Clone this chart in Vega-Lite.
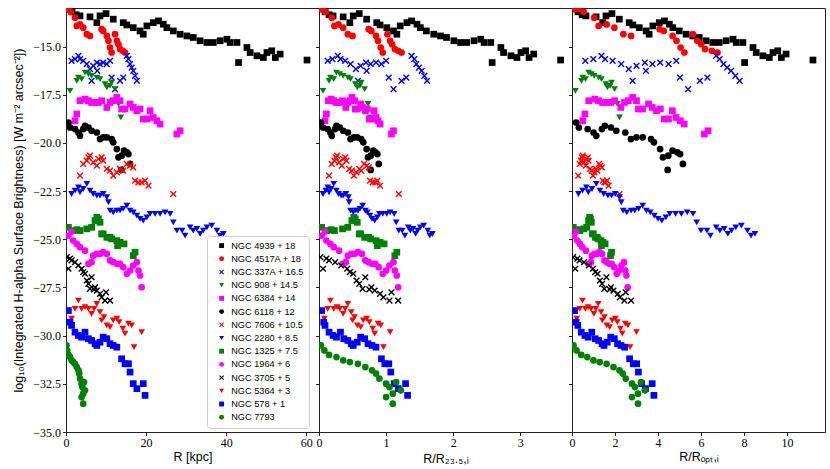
{
  "$schema": "https://vega.github.io/schema/vega-lite/v6.json",
  "padding": {"left": 12, "top": 7, "right": 4, "bottom": 2},
  "spacing": 0,
  "bounds": "flush",
  "datasets": {
    "pts": [
      {"g": "NGC 4939 + 18", "r": 0.2, "a": 0.01, "b": 0.04, "y": -13.05},
      {"g": "NGC 4939 + 18", "r": 1.5, "a": 0.09, "b": 0.28, "y": -13.2},
      {"g": "NGC 4939 + 18", "r": 2.5, "a": 0.15, "b": 0.47, "y": -13.35},
      {"g": "NGC 4939 + 18", "r": 3.5, "a": 0.21, "b": 0.65, "y": -13.41},
      {"g": "NGC 4939 + 18", "r": 6, "a": 0.36, "b": 1.12, "y": -13.46},
      {"g": "NGC 4939 + 18", "r": 7.7, "a": 0.46, "b": 1.43, "y": -13.76},
      {"g": "NGC 4939 + 18", "r": 8.5, "a": 0.51, "b": 1.58, "y": -13.41},
      {"g": "NGC 4939 + 18", "r": 10, "a": 0.6, "b": 1.86, "y": -13.29},
      {"g": "NGC 4939 + 18", "r": 11.8, "a": 0.71, "b": 2.2, "y": -13.58},
      {"g": "NGC 4939 + 18", "r": 14.3, "a": 0.86, "b": 2.66, "y": -13.76},
      {"g": "NGC 4939 + 18", "r": 15.2, "a": 0.91, "b": 2.83, "y": -13.88},
      {"g": "NGC 4939 + 18", "r": 16.8, "a": 1.01, "b": 3.13, "y": -14.02},
      {"g": "NGC 4939 + 18", "r": 18.5, "a": 1.11, "b": 3.45, "y": -14.19},
      {"g": "NGC 4939 + 18", "r": 19.3, "a": 1.16, "b": 3.59, "y": -14.36},
      {"g": "NGC 4939 + 18", "r": 20.2, "a": 1.21, "b": 3.76, "y": -13.93},
      {"g": "NGC 4939 + 18", "r": 21.8, "a": 1.31, "b": 4.06, "y": -13.76},
      {"g": "NGC 4939 + 18", "r": 23.1, "a": 1.38, "b": 4.3, "y": -13.67},
      {"g": "NGC 4939 + 18", "r": 24.3, "a": 1.46, "b": 4.53, "y": -13.84},
      {"g": "NGC 4939 + 18", "r": 25.2, "a": 1.51, "b": 4.69, "y": -14.02},
      {"g": "NGC 4939 + 18", "r": 26.8, "a": 1.6, "b": 4.99, "y": -14.19},
      {"g": "NGC 4939 + 18", "r": 28.5, "a": 1.71, "b": 5.31, "y": -14.36},
      {"g": "NGC 4939 + 18", "r": 30.2, "a": 1.81, "b": 5.62, "y": -14.45},
      {"g": "NGC 4939 + 18", "r": 31.8, "a": 1.9, "b": 5.92, "y": -14.53},
      {"g": "NGC 4939 + 18", "r": 33.5, "a": 2.01, "b": 6.24, "y": -14.7},
      {"g": "NGC 4939 + 18", "r": 35.2, "a": 2.11, "b": 6.55, "y": -14.79},
      {"g": "NGC 4939 + 18", "r": 36.8, "a": 2.2, "b": 6.85, "y": -14.79},
      {"g": "NGC 4939 + 18", "r": 38.5, "a": 2.31, "b": 7.17, "y": -14.7},
      {"g": "NGC 4939 + 18", "r": 40.2, "a": 2.41, "b": 7.49, "y": -14.62},
      {"g": "NGC 4939 + 18", "r": 41, "a": 2.46, "b": 7.64, "y": -14.79},
      {"g": "NGC 4939 + 18", "r": 42.7, "a": 2.56, "b": 7.95, "y": -14.79},
      {"g": "NGC 4939 + 18", "r": 43.1, "a": 2.58, "b": 8.03, "y": -15.83},
      {"g": "NGC 4939 + 18", "r": 45.2, "a": 2.71, "b": 8.42, "y": -15.05},
      {"g": "NGC 4939 + 18", "r": 46, "a": 2.75, "b": 8.57, "y": -15.31},
      {"g": "NGC 4939 + 18", "r": 47.7, "a": 2.86, "b": 8.88, "y": -15.48},
      {"g": "NGC 4939 + 18", "r": 49.3, "a": 2.95, "b": 9.18, "y": -15.57},
      {"g": "NGC 4939 + 18", "r": 50.2, "a": 3.01, "b": 9.35, "y": -15.31},
      {"g": "NGC 4939 + 18", "r": 51.4, "a": 3.08, "b": 9.57, "y": -15.22},
      {"g": "NGC 4939 + 18", "r": 52.3, "a": 3.13, "b": 9.74, "y": -15.57},
      {"g": "NGC 4939 + 18", "r": 53.5, "a": 3.2, "b": 9.96, "y": -15.39},
      {"g": "NGC 4939 + 18", "r": 60.2, "a": 3.6, "b": 11.21, "y": -15.7},

      {"g": "NGC 4517A + 18", "r": 0.3, "a": 0.03, "b": 0.14, "y": -13.02},
      {"g": "NGC 4517A + 18", "r": 0.6, "a": 0.05, "b": 0.28, "y": -13.06},
      {"g": "NGC 4517A + 18", "r": 1.2, "a": 0.1, "b": 0.55, "y": -13.2},
      {"g": "NGC 4517A + 18", "r": 2.25, "a": 0.19, "b": 1.03, "y": -13.5},
      {"g": "NGC 4517A + 18", "r": 2.7, "a": 0.23, "b": 1.24, "y": -13.93},
      {"g": "NGC 4517A + 18", "r": 3.5, "a": 0.29, "b": 1.61, "y": -13.85},
      {"g": "NGC 4517A + 18", "r": 4.3, "a": 0.36, "b": 1.97, "y": -14.02},
      {"g": "NGC 4517A + 18", "r": 5.2, "a": 0.43, "b": 2.39, "y": -14.36},
      {"g": "NGC 4517A + 18", "r": 6, "a": 0.5, "b": 2.75, "y": -14.45},
      {"g": "NGC 4517A + 18", "r": 8.9, "a": 0.74, "b": 4.08, "y": -14.1},
      {"g": "NGC 4517A + 18", "r": 9.3, "a": 0.78, "b": 4.27, "y": -14.19},
      {"g": "NGC 4517A + 18", "r": 10.2, "a": 0.85, "b": 4.68, "y": -14.45},
      {"g": "NGC 4517A + 18", "r": 10.6, "a": 0.88, "b": 4.86, "y": -14.7},
      {"g": "NGC 4517A + 18", "r": 11, "a": 0.92, "b": 5.05, "y": -15.05},
      {"g": "NGC 4517A + 18", "r": 11.4, "a": 0.95, "b": 5.23, "y": -15.31},
      {"g": "NGC 4517A + 18", "r": 12.25, "a": 1.02, "b": 5.62, "y": -14.36},
      {"g": "NGC 4517A + 18", "r": 12.7, "a": 1.06, "b": 5.83, "y": -14.7},
      {"g": "NGC 4517A + 18", "r": 13.1, "a": 1.09, "b": 6.01, "y": -14.88},
      {"g": "NGC 4517A + 18", "r": 13.5, "a": 1.13, "b": 6.19, "y": -15.13},
      {"g": "NGC 4517A + 18", "r": 14.2, "a": 1.18, "b": 6.51, "y": -15.22},
      {"g": "NGC 4517A + 18", "r": 14.75, "a": 1.23, "b": 6.77, "y": -15.31},

      {"g": "NGC 337A + 16.5", "r": 1.4, "a": 0.13, "b": 0.62, "y": -15.74},
      {"g": "NGC 337A + 16.5", "r": 2.25, "a": 0.2, "b": 0.99, "y": -15.65},
      {"g": "NGC 337A + 16.5", "r": 3.1, "a": 0.28, "b": 1.37, "y": -15.48},
      {"g": "NGC 337A + 16.5", "r": 3.5, "a": 0.32, "b": 1.54, "y": -15.65},
      {"g": "NGC 337A + 16.5", "r": 4.3, "a": 0.39, "b": 1.89, "y": -15.74},
      {"g": "NGC 337A + 16.5", "r": 5.2, "a": 0.47, "b": 2.29, "y": -15.91},
      {"g": "NGC 337A + 16.5", "r": 6, "a": 0.55, "b": 2.64, "y": -16.17},
      {"g": "NGC 337A + 16.5", "r": 6.4, "a": 0.58, "b": 2.82, "y": -16.78},
      {"g": "NGC 337A + 16.5", "r": 6.8, "a": 0.62, "b": 3.0, "y": -16.0},
      {"g": "NGC 337A + 16.5", "r": 7.7, "a": 0.7, "b": 3.39, "y": -15.83},
      {"g": "NGC 337A + 16.5", "r": 7.8, "a": 0.71, "b": 3.44, "y": -16.26},
      {"g": "NGC 337A + 16.5", "r": 8.5, "a": 0.77, "b": 3.74, "y": -15.91},
      {"g": "NGC 337A + 16.5", "r": 9.3, "a": 0.85, "b": 4.1, "y": -15.83},
      {"g": "NGC 337A + 16.5", "r": 10.2, "a": 0.93, "b": 4.49, "y": -15.91},
      {"g": "NGC 337A + 16.5", "r": 11, "a": 1.0, "b": 4.85, "y": -15.74},
      {"g": "NGC 337A + 16.5", "r": 11.4, "a": 1.04, "b": 5.02, "y": -16.61},
      {"g": "NGC 337A + 16.5", "r": 12.25, "a": 1.11, "b": 5.4, "y": -17.21},
      {"g": "NGC 337A + 16.5", "r": 13.5, "a": 1.23, "b": 5.95, "y": -16.78},
      {"g": "NGC 337A + 16.5", "r": 14.3, "a": 1.3, "b": 6.3, "y": -16.61},
      {"g": "NGC 337A + 16.5", "r": 15.2, "a": 1.38, "b": 6.7, "y": -15.48},
      {"g": "NGC 337A + 16.5", "r": 15.6, "a": 1.42, "b": 6.87, "y": -15.65},
      {"g": "NGC 337A + 16.5", "r": 16, "a": 1.45, "b": 7.05, "y": -15.91},
      {"g": "NGC 337A + 16.5", "r": 16.4, "a": 1.49, "b": 7.22, "y": -16.09},
      {"g": "NGC 337A + 16.5", "r": 16.8, "a": 1.53, "b": 7.4, "y": -16.26},
      {"g": "NGC 337A + 16.5", "r": 17.25, "a": 1.57, "b": 7.6, "y": -16.52},
      {"g": "NGC 337A + 16.5", "r": 17.7, "a": 1.61, "b": 7.8, "y": -16.78},

      {"g": "NGC 908 + 14.5", "r": 1, "a": 0.06, "b": 0.16, "y": -17.3},
      {"g": "NGC 908 + 14.5", "r": 2.7, "a": 0.15, "b": 0.44, "y": -16.78},
      {"g": "NGC 908 + 14.5", "r": 3.1, "a": 0.17, "b": 0.5, "y": -16.61},
      {"g": "NGC 908 + 14.5", "r": 3.9, "a": 0.22, "b": 0.63, "y": -16.69},
      {"g": "NGC 908 + 14.5", "r": 4.75, "a": 0.26, "b": 0.77, "y": -16.35},
      {"g": "NGC 908 + 14.5", "r": 5.6, "a": 0.31, "b": 0.9, "y": -16.43},
      {"g": "NGC 908 + 14.5", "r": 6.4, "a": 0.36, "b": 1.03, "y": -16.52},
      {"g": "NGC 908 + 14.5", "r": 7.7, "a": 0.43, "b": 1.24, "y": -16.61},
      {"g": "NGC 908 + 14.5", "r": 8.5, "a": 0.47, "b": 1.37, "y": -16.69},
      {"g": "NGC 908 + 14.5", "r": 9.75, "a": 0.54, "b": 1.57, "y": -16.95},
      {"g": "NGC 908 + 14.5", "r": 10.2, "a": 0.57, "b": 1.65, "y": -17.12},
      {"g": "NGC 908 + 14.5", "r": 11, "a": 0.61, "b": 1.77, "y": -17.04},
      {"g": "NGC 908 + 14.5", "r": 11.4, "a": 0.63, "b": 1.84, "y": -16.87},
      {"g": "NGC 908 + 14.5", "r": 12.25, "a": 0.68, "b": 1.98, "y": -17.21},
      {"g": "NGC 908 + 14.5", "r": 13.1, "a": 0.73, "b": 2.11, "y": -17.98},
      {"g": "NGC 908 + 14.5", "r": 13.7, "a": 0.76, "b": 2.21, "y": -18.68},

      {"g": "NGC 6384 + 14", "r": 2.25, "a": 0.09, "b": 0.5, "y": -18.85},
      {"g": "NGC 6384 + 14", "r": 2.7, "a": 0.11, "b": 0.6, "y": -18.5},
      {"g": "NGC 6384 + 14", "r": 3.5, "a": 0.14, "b": 0.78, "y": -17.81},
      {"g": "NGC 6384 + 14", "r": 4.75, "a": 0.18, "b": 1.06, "y": -17.73},
      {"g": "NGC 6384 + 14", "r": 5.6, "a": 0.22, "b": 1.24, "y": -17.81},
      {"g": "NGC 6384 + 14", "r": 6.4, "a": 0.25, "b": 1.42, "y": -17.9},
      {"g": "NGC 6384 + 14", "r": 7.25, "a": 0.28, "b": 1.61, "y": -17.9},
      {"g": "NGC 6384 + 14", "r": 8.1, "a": 0.32, "b": 1.8, "y": -17.9},
      {"g": "NGC 6384 + 14", "r": 8.9, "a": 0.35, "b": 1.98, "y": -17.81},
      {"g": "NGC 6384 + 14", "r": 10.2, "a": 0.4, "b": 2.27, "y": -18.16},
      {"g": "NGC 6384 + 14", "r": 11, "a": 0.43, "b": 2.44, "y": -17.9},
      {"g": "NGC 6384 + 14", "r": 11.8, "a": 0.46, "b": 2.62, "y": -17.81},
      {"g": "NGC 6384 + 14", "r": 12.7, "a": 0.49, "b": 2.82, "y": -17.64},
      {"g": "NGC 6384 + 14", "r": 13.5, "a": 0.53, "b": 3.0, "y": -17.81},
      {"g": "NGC 6384 + 14", "r": 13.9, "a": 0.54, "b": 3.09, "y": -18.24},
      {"g": "NGC 6384 + 14", "r": 14.75, "a": 0.57, "b": 3.28, "y": -18.24},
      {"g": "NGC 6384 + 14", "r": 16, "a": 0.62, "b": 3.56, "y": -17.98},
      {"g": "NGC 6384 + 14", "r": 16.8, "a": 0.65, "b": 3.73, "y": -18.16},
      {"g": "NGC 6384 + 14", "r": 17.7, "a": 0.69, "b": 3.93, "y": -18.33},
      {"g": "NGC 6384 + 14", "r": 18.5, "a": 0.72, "b": 4.11, "y": -18.24},
      {"g": "NGC 6384 + 14", "r": 19.3, "a": 0.75, "b": 4.29, "y": -18.76},
      {"g": "NGC 6384 + 14", "r": 20.2, "a": 0.79, "b": 4.49, "y": -18.76},
      {"g": "NGC 6384 + 14", "r": 21, "a": 0.82, "b": 4.67, "y": -18.33},
      {"g": "NGC 6384 + 14", "r": 21.8, "a": 0.85, "b": 4.84, "y": -18.68},
      {"g": "NGC 6384 + 14", "r": 22.7, "a": 0.88, "b": 5.04, "y": -18.85},
      {"g": "NGC 6384 + 14", "r": 23.5, "a": 0.91, "b": 5.22, "y": -19.02},
      {"g": "NGC 6384 + 14", "r": 27.7, "a": 1.08, "b": 6.16, "y": -19.54},
      {"g": "NGC 6384 + 14", "r": 28.5, "a": 1.11, "b": 6.33, "y": -19.37},

      {"g": "NGC 6118 + 12", "r": 0.6, "a": 0.03, "b": 0.19, "y": -18.94},
      {"g": "NGC 6118 + 12", "r": 1, "a": 0.06, "b": 0.32, "y": -19.2},
      {"g": "NGC 6118 + 12", "r": 2.25, "a": 0.13, "b": 0.73, "y": -19.28},
      {"g": "NGC 6118 + 12", "r": 3.1, "a": 0.17, "b": 1.0, "y": -19.46},
      {"g": "NGC 6118 + 12", "r": 3.5, "a": 0.19, "b": 1.13, "y": -19.63},
      {"g": "NGC 6118 + 12", "r": 4.3, "a": 0.24, "b": 1.39, "y": -19.28},
      {"g": "NGC 6118 + 12", "r": 4.75, "a": 0.26, "b": 1.53, "y": -19.11},
      {"g": "NGC 6118 + 12", "r": 5.6, "a": 0.31, "b": 1.81, "y": -19.2},
      {"g": "NGC 6118 + 12", "r": 6.4, "a": 0.36, "b": 2.06, "y": -19.37},
      {"g": "NGC 6118 + 12", "r": 7.7, "a": 0.43, "b": 2.48, "y": -19.46},
      {"g": "NGC 6118 + 12", "r": 8.5, "a": 0.47, "b": 2.74, "y": -19.8},
      {"g": "NGC 6118 + 12", "r": 9.3, "a": 0.52, "b": 3.0, "y": -19.71},
      {"g": "NGC 6118 + 12", "r": 10.2, "a": 0.57, "b": 3.29, "y": -19.71},
      {"g": "NGC 6118 + 12", "r": 11.4, "a": 0.63, "b": 3.68, "y": -19.8},
      {"g": "NGC 6118 + 12", "r": 11.8, "a": 0.66, "b": 3.81, "y": -19.97},
      {"g": "NGC 6118 + 12", "r": 12.7, "a": 0.71, "b": 4.1, "y": -20.32},
      {"g": "NGC 6118 + 12", "r": 13.1, "a": 0.73, "b": 4.23, "y": -20.75},
      {"g": "NGC 6118 + 12", "r": 13.8, "a": 0.77, "b": 4.45, "y": -21.4},
      {"g": "NGC 6118 + 12", "r": 13.9, "a": 0.77, "b": 4.48, "y": -20.66},
      {"g": "NGC 6118 + 12", "r": 14.5, "a": 0.81, "b": 4.68, "y": -20.4},
      {"g": "NGC 6118 + 12", "r": 15.2, "a": 0.84, "b": 4.9, "y": -20.49},
      {"g": "NGC 6118 + 12", "r": 15.6, "a": 0.87, "b": 5.03, "y": -20.58},
      {"g": "NGC 6118 + 12", "r": 16, "a": 0.89, "b": 5.16, "y": -21.09},

      {"g": "NGC 7606 + 10.5", "r": 3.5, "a": 0.15, "b": 0.29, "y": -21.7},
      {"g": "NGC 7606 + 10.5", "r": 4.3, "a": 0.19, "b": 0.36, "y": -21.09},
      {"g": "NGC 7606 + 10.5", "r": 5.2, "a": 0.23, "b": 0.43, "y": -20.92},
      {"g": "NGC 7606 + 10.5", "r": 5.6, "a": 0.25, "b": 0.46, "y": -20.75},
      {"g": "NGC 7606 + 10.5", "r": 6, "a": 0.27, "b": 0.5, "y": -20.66},
      {"g": "NGC 7606 + 10.5", "r": 6.8, "a": 0.3, "b": 0.56, "y": -21.01},
      {"g": "NGC 7606 + 10.5", "r": 7.7, "a": 0.34, "b": 0.64, "y": -21.18},
      {"g": "NGC 7606 + 10.5", "r": 8.1, "a": 0.36, "b": 0.67, "y": -20.83},
      {"g": "NGC 7606 + 10.5", "r": 8.9, "a": 0.39, "b": 0.74, "y": -20.75},
      {"g": "NGC 7606 + 10.5", "r": 9.3, "a": 0.41, "b": 0.77, "y": -20.92},
      {"g": "NGC 7606 + 10.5", "r": 10.2, "a": 0.45, "b": 0.84, "y": -21.35},
      {"g": "NGC 7606 + 10.5", "r": 11, "a": 0.49, "b": 0.91, "y": -21.44},
      {"g": "NGC 7606 + 10.5", "r": 11.8, "a": 0.52, "b": 0.98, "y": -21.7},
      {"g": "NGC 7606 + 10.5", "r": 12.7, "a": 0.56, "b": 1.05, "y": -21.53},
      {"g": "NGC 7606 + 10.5", "r": 13.5, "a": 0.6, "b": 1.12, "y": -21.35},
      {"g": "NGC 7606 + 10.5", "r": 14.3, "a": 0.63, "b": 1.18, "y": -21.44},
      {"g": "NGC 7606 + 10.5", "r": 15.2, "a": 0.67, "b": 1.26, "y": -21.09},
      {"g": "NGC 7606 + 10.5", "r": 16, "a": 0.71, "b": 1.32, "y": -21.18},
      {"g": "NGC 7606 + 10.5", "r": 16.8, "a": 0.74, "b": 1.39, "y": -21.27},
      {"g": "NGC 7606 + 10.5", "r": 17.25, "a": 0.76, "b": 1.43, "y": -21.96},
      {"g": "NGC 7606 + 10.5", "r": 18.1, "a": 0.8, "b": 1.5, "y": -22.05},
      {"g": "NGC 7606 + 10.5", "r": 18.9, "a": 0.84, "b": 1.56, "y": -22.05},
      {"g": "NGC 7606 + 10.5", "r": 19.75, "a": 0.87, "b": 1.63, "y": -21.96},
      {"g": "NGC 7606 + 10.5", "r": 20.6, "a": 0.91, "b": 1.7, "y": -22.22},
      {"g": "NGC 7606 + 10.5", "r": 26.8, "a": 1.19, "b": 2.21, "y": -22.65},

      {"g": "NGC 2280 + 8.5", "r": 1.4, "a": 0.06, "b": 0.3, "y": -22.65},
      {"g": "NGC 2280 + 8.5", "r": 2.25, "a": 0.1, "b": 0.49, "y": -22.48},
      {"g": "NGC 2280 + 8.5", "r": 3.1, "a": 0.13, "b": 0.67, "y": -22.31},
      {"g": "NGC 2280 + 8.5", "r": 3.5, "a": 0.15, "b": 0.76, "y": -22.56},
      {"g": "NGC 2280 + 8.5", "r": 4.3, "a": 0.18, "b": 0.93, "y": -22.39},
      {"g": "NGC 2280 + 8.5", "r": 5.2, "a": 0.22, "b": 1.13, "y": -22.13},
      {"g": "NGC 2280 + 8.5", "r": 6, "a": 0.26, "b": 1.3, "y": -22.48},
      {"g": "NGC 2280 + 8.5", "r": 6.8, "a": 0.29, "b": 1.47, "y": -22.65},
      {"g": "NGC 2280 + 8.5", "r": 7.7, "a": 0.33, "b": 1.67, "y": -22.74},
      {"g": "NGC 2280 + 8.5", "r": 8.5, "a": 0.36, "b": 1.84, "y": -22.74},
      {"g": "NGC 2280 + 8.5", "r": 9.3, "a": 0.4, "b": 2.01, "y": -22.65},
      {"g": "NGC 2280 + 8.5", "r": 10.2, "a": 0.44, "b": 2.21, "y": -22.82},
      {"g": "NGC 2280 + 8.5", "r": 10.6, "a": 0.45, "b": 2.29, "y": -23.08},
      {"g": "NGC 2280 + 8.5", "r": 11, "a": 0.47, "b": 2.38, "y": -23.51},
      {"g": "NGC 2280 + 8.5", "r": 11.8, "a": 0.51, "b": 2.55, "y": -23.6},
      {"g": "NGC 2280 + 8.5", "r": 12.7, "a": 0.55, "b": 2.75, "y": -23.51},
      {"g": "NGC 2280 + 8.5", "r": 13.5, "a": 0.58, "b": 2.92, "y": -23.51},
      {"g": "NGC 2280 + 8.5", "r": 14.3, "a": 0.61, "b": 3.1, "y": -23.42},
      {"g": "NGC 2280 + 8.5", "r": 15.2, "a": 0.65, "b": 3.29, "y": -23.25},
      {"g": "NGC 2280 + 8.5", "r": 16, "a": 0.69, "b": 3.46, "y": -23.51},
      {"g": "NGC 2280 + 8.5", "r": 16.8, "a": 0.72, "b": 3.64, "y": -23.6},
      {"g": "NGC 2280 + 8.5", "r": 17.7, "a": 0.76, "b": 3.83, "y": -23.77},
      {"g": "NGC 2280 + 8.5", "r": 18.5, "a": 0.79, "b": 4.0, "y": -23.94},
      {"g": "NGC 2280 + 8.5", "r": 19.3, "a": 0.83, "b": 4.18, "y": -24.03},
      {"g": "NGC 2280 + 8.5", "r": 20.2, "a": 0.87, "b": 4.37, "y": -23.86},
      {"g": "NGC 2280 + 8.5", "r": 21, "a": 0.9, "b": 4.55, "y": -23.68},
      {"g": "NGC 2280 + 8.5", "r": 22.25, "a": 0.95, "b": 4.82, "y": -23.68},
      {"g": "NGC 2280 + 8.5", "r": 23.5, "a": 1.01, "b": 5.09, "y": -23.68},
      {"g": "NGC 2280 + 8.5", "r": 24.75, "a": 1.06, "b": 5.36, "y": -23.6},
      {"g": "NGC 2280 + 8.5", "r": 26, "a": 1.12, "b": 5.63, "y": -23.68},
      {"g": "NGC 2280 + 8.5", "r": 26.8, "a": 1.15, "b": 5.8, "y": -24.12},
      {"g": "NGC 2280 + 8.5", "r": 27.7, "a": 1.19, "b": 6.0, "y": -24.55},
      {"g": "NGC 2280 + 8.5", "r": 29, "a": 1.24, "b": 6.28, "y": -24.55},
      {"g": "NGC 2280 + 8.5", "r": 29.75, "a": 1.28, "b": 6.44, "y": -24.81},
      {"g": "NGC 2280 + 8.5", "r": 31, "a": 1.33, "b": 6.71, "y": -24.38},
      {"g": "NGC 2280 + 8.5", "r": 31.8, "a": 1.36, "b": 6.88, "y": -24.55},
      {"g": "NGC 2280 + 8.5", "r": 32.7, "a": 1.4, "b": 7.08, "y": -24.46},
      {"g": "NGC 2280 + 8.5", "r": 33.5, "a": 1.44, "b": 7.25, "y": -24.72},
      {"g": "NGC 2280 + 8.5", "r": 34.3, "a": 1.47, "b": 7.42, "y": -24.55},
      {"g": "NGC 2280 + 8.5", "r": 35.2, "a": 1.51, "b": 7.62, "y": -24.38},
      {"g": "NGC 2280 + 8.5", "r": 36.4, "a": 1.56, "b": 7.88, "y": -24.29},
      {"g": "NGC 2280 + 8.5", "r": 37.7, "a": 1.62, "b": 8.16, "y": -24.55},
      {"g": "NGC 2280 + 8.5", "r": 38.5, "a": 1.65, "b": 8.33, "y": -24.81},
      {"g": "NGC 2280 + 8.5", "r": 39.3, "a": 1.69, "b": 8.51, "y": -24.72},

      {"g": "NGC 1325 + 7.5", "r": 0.6, "a": 0.04, "b": 0.06, "y": -24.38},
      {"g": "NGC 1325 + 7.5", "r": 1.8, "a": 0.12, "b": 0.19, "y": -24.55},
      {"g": "NGC 1325 + 7.5", "r": 2.7, "a": 0.18, "b": 0.29, "y": -24.5},
      {"g": "NGC 1325 + 7.5", "r": 3.5, "a": 0.23, "b": 0.37, "y": -24.55},
      {"g": "NGC 1325 + 7.5", "r": 5.2, "a": 0.35, "b": 0.55, "y": -24.46},
      {"g": "NGC 1325 + 7.5", "r": 6.4, "a": 0.43, "b": 0.68, "y": -24.38},
      {"g": "NGC 1325 + 7.5", "r": 7.25, "a": 0.49, "b": 0.77, "y": -24.03},
      {"g": "NGC 1325 + 7.5", "r": 7.7, "a": 0.52, "b": 0.82, "y": -23.86},
      {"g": "NGC 1325 + 7.5", "r": 8.1, "a": 0.54, "b": 0.86, "y": -23.94},
      {"g": "NGC 1325 + 7.5", "r": 8.5, "a": 0.57, "b": 0.9, "y": -24.12},
      {"g": "NGC 1325 + 7.5", "r": 8.9, "a": 0.6, "b": 0.95, "y": -24.72},
      {"g": "NGC 1325 + 7.5", "r": 9.3, "a": 0.62, "b": 0.99, "y": -24.72},
      {"g": "NGC 1325 + 7.5", "r": 10.2, "a": 0.68, "b": 1.09, "y": -24.9},
      {"g": "NGC 1325 + 7.5", "r": 11, "a": 0.74, "b": 1.17, "y": -24.9},
      {"g": "NGC 1325 + 7.5", "r": 11.4, "a": 0.77, "b": 1.21, "y": -24.98},
      {"g": "NGC 1325 + 7.5", "r": 12.7, "a": 0.85, "b": 1.35, "y": -25.07},
      {"g": "NGC 1325 + 7.5", "r": 12.9, "a": 0.87, "b": 1.37, "y": -25.33},
      {"g": "NGC 1325 + 7.5", "r": 13.5, "a": 0.91, "b": 1.44, "y": -25.16},
      {"g": "NGC 1325 + 7.5", "r": 14.5, "a": 0.97, "b": 1.54, "y": -25.24},
      {"g": "NGC 1325 + 7.5", "r": 16.8, "a": 1.13, "b": 1.79, "y": -25.85},
      {"g": "NGC 1325 + 7.5", "r": 17.25, "a": 1.16, "b": 1.84, "y": -25.67},

      {"g": "NGC 1964 + 6", "r": 0.6, "a": 0.04, "b": 0.08, "y": -24.81},
      {"g": "NGC 1964 + 6", "r": 1.4, "a": 0.09, "b": 0.19, "y": -24.6},
      {"g": "NGC 1964 + 6", "r": 1.8, "a": 0.11, "b": 0.25, "y": -25.07},
      {"g": "NGC 1964 + 6", "r": 2.7, "a": 0.17, "b": 0.37, "y": -25.24},
      {"g": "NGC 1964 + 6", "r": 3.5, "a": 0.22, "b": 0.48, "y": -25.41},
      {"g": "NGC 1964 + 6", "r": 4.75, "a": 0.3, "b": 0.65, "y": -25.59},
      {"g": "NGC 1964 + 6", "r": 5.6, "a": 0.35, "b": 0.77, "y": -26.27},
      {"g": "NGC 1964 + 6", "r": 6.4, "a": 0.4, "b": 0.88, "y": -26.19},
      {"g": "NGC 1964 + 6", "r": 6.8, "a": 0.43, "b": 0.93, "y": -25.85},
      {"g": "NGC 1964 + 6", "r": 7.7, "a": 0.48, "b": 1.05, "y": -25.76},
      {"g": "NGC 1964 + 6", "r": 8.5, "a": 0.53, "b": 1.16, "y": -25.76},
      {"g": "NGC 1964 + 6", "r": 9.3, "a": 0.58, "b": 1.27, "y": -25.67},
      {"g": "NGC 1964 + 6", "r": 10.2, "a": 0.64, "b": 1.4, "y": -25.76},
      {"g": "NGC 1964 + 6", "r": 11, "a": 0.69, "b": 1.51, "y": -26.1},
      {"g": "NGC 1964 + 6", "r": 11.8, "a": 0.74, "b": 1.62, "y": -26.19},
      {"g": "NGC 1964 + 6", "r": 12.7, "a": 0.79, "b": 1.74, "y": -26.27},
      {"g": "NGC 1964 + 6", "r": 13.5, "a": 0.84, "b": 1.85, "y": -26.27},
      {"g": "NGC 1964 + 6", "r": 14.3, "a": 0.89, "b": 1.96, "y": -26.45},
      {"g": "NGC 1964 + 6", "r": 15.2, "a": 0.95, "b": 2.08, "y": -26.79},
      {"g": "NGC 1964 + 6", "r": 16, "a": 1.0, "b": 2.19, "y": -26.62},
      {"g": "NGC 1964 + 6", "r": 16.8, "a": 1.05, "b": 2.3, "y": -26.36},
      {"g": "NGC 1964 + 6", "r": 17.7, "a": 1.11, "b": 2.42, "y": -26.19},
      {"g": "NGC 1964 + 6", "r": 18.1, "a": 1.13, "b": 2.48, "y": -26.62},
      {"g": "NGC 1964 + 6", "r": 18.5, "a": 1.16, "b": 2.53, "y": -26.88},
      {"g": "NGC 1964 + 6", "r": 18.9, "a": 1.18, "b": 2.59, "y": -27.49},

      {"g": "NGC 3705 + 5", "r": 0.2, "a": 0.02, "b": 0.05, "y": -25.93},
      {"g": "NGC 3705 + 5", "r": 0.6, "a": 0.06, "b": 0.15, "y": -26.53},
      {"g": "NGC 3705 + 5", "r": 1, "a": 0.11, "b": 0.25, "y": -26.0},
      {"g": "NGC 3705 + 5", "r": 1.4, "a": 0.15, "b": 0.35, "y": -26.1},
      {"g": "NGC 3705 + 5", "r": 2.25, "a": 0.24, "b": 0.56, "y": -26.19},
      {"g": "NGC 3705 + 5", "r": 3.1, "a": 0.33, "b": 0.78, "y": -26.36},
      {"g": "NGC 3705 + 5", "r": 3.9, "a": 0.42, "b": 0.98, "y": -26.53},
      {"g": "NGC 3705 + 5", "r": 4.3, "a": 0.46, "b": 1.08, "y": -26.7},
      {"g": "NGC 3705 + 5", "r": 4.75, "a": 0.51, "b": 1.19, "y": -26.79},
      {"g": "NGC 3705 + 5", "r": 5.2, "a": 0.56, "b": 1.3, "y": -27.14},
      {"g": "NGC 3705 + 5", "r": 5.6, "a": 0.6, "b": 1.4, "y": -27.31},
      {"g": "NGC 3705 + 5", "r": 6, "a": 0.65, "b": 1.5, "y": -27.57},
      {"g": "NGC 3705 + 5", "r": 6.4, "a": 0.69, "b": 1.6, "y": -26.97},
      {"g": "NGC 3705 + 5", "r": 7, "a": 0.75, "b": 1.75, "y": -27.6},
      {"g": "NGC 3705 + 5", "r": 7.25, "a": 0.78, "b": 1.81, "y": -27.49},
      {"g": "NGC 3705 + 5", "r": 7.7, "a": 0.83, "b": 1.93, "y": -27.66},
      {"g": "NGC 3705 + 5", "r": 8.5, "a": 0.91, "b": 2.13, "y": -27.83},
      {"g": "NGC 3705 + 5", "r": 8.9, "a": 0.96, "b": 2.23, "y": -28.01},
      {"g": "NGC 3705 + 5", "r": 9.75, "a": 1.05, "b": 2.44, "y": -28.18},
      {"g": "NGC 3705 + 5", "r": 10, "a": 1.08, "b": 2.5, "y": -27.75},
      {"g": "NGC 3705 + 5", "r": 11, "a": 1.18, "b": 2.75, "y": -28.18},

      {"g": "NGC 5364 + 3", "r": 1.4, "a": 0.08, "b": 0.22, "y": -29.12},
      {"g": "NGC 5364 + 3", "r": 2.25, "a": 0.13, "b": 0.36, "y": -28.61},
      {"g": "NGC 5364 + 3", "r": 3.1, "a": 0.17, "b": 0.49, "y": -28.18},
      {"g": "NGC 5364 + 3", "r": 3.9, "a": 0.22, "b": 0.62, "y": -28.61},
      {"g": "NGC 5364 + 3", "r": 4.75, "a": 0.27, "b": 0.75, "y": -28.52},
      {"g": "NGC 5364 + 3", "r": 5.6, "a": 0.31, "b": 0.89, "y": -28.61},
      {"g": "NGC 5364 + 3", "r": 6.4, "a": 0.36, "b": 1.02, "y": -28.87},
      {"g": "NGC 5364 + 3", "r": 7, "a": 0.39, "b": 1.11, "y": -28.61},
      {"g": "NGC 5364 + 3", "r": 7.7, "a": 0.43, "b": 1.22, "y": -28.35},
      {"g": "NGC 5364 + 3", "r": 8.5, "a": 0.48, "b": 1.35, "y": -28.78},
      {"g": "NGC 5364 + 3", "r": 8.9, "a": 0.5, "b": 1.41, "y": -29.21},
      {"g": "NGC 5364 + 3", "r": 9.5, "a": 0.53, "b": 1.51, "y": -29.04},
      {"g": "NGC 5364 + 3", "r": 10.2, "a": 0.57, "b": 1.62, "y": -29.47},
      {"g": "NGC 5364 + 3", "r": 11, "a": 0.62, "b": 1.75, "y": -29.56},
      {"g": "NGC 5364 + 3", "r": 11.8, "a": 0.66, "b": 1.87, "y": -29.21},
      {"g": "NGC 5364 + 3", "r": 12.7, "a": 0.71, "b": 2.02, "y": -29.12},
      {"g": "NGC 5364 + 3", "r": 13.3, "a": 0.75, "b": 2.11, "y": -29.3},
      {"g": "NGC 5364 + 3", "r": 14.2, "a": 0.8, "b": 2.25, "y": -29.64},
      {"g": "NGC 5364 + 3", "r": 14.75, "a": 0.83, "b": 2.34, "y": -29.9},
      {"g": "NGC 5364 + 3", "r": 15.6, "a": 0.88, "b": 2.48, "y": -29.38},
      {"g": "NGC 5364 + 3", "r": 16.4, "a": 0.92, "b": 2.6, "y": -29.47},
      {"g": "NGC 5364 + 3", "r": 17, "a": 0.96, "b": 2.7, "y": -30.6},
      {"g": "NGC 5364 + 3", "r": 18.9, "a": 1.06, "b": 3.0, "y": -29.82},

      {"g": "NGC 578 + 1", "r": 0.6, "a": 0.04, "b": 0.12, "y": -28.7},
      {"g": "NGC 578 + 1", "r": 1, "a": 0.07, "b": 0.19, "y": -29.3},
      {"g": "NGC 578 + 1", "r": 1.4, "a": 0.09, "b": 0.27, "y": -29.47},
      {"g": "NGC 578 + 1", "r": 2.25, "a": 0.15, "b": 0.43, "y": -29.82},
      {"g": "NGC 578 + 1", "r": 3.1, "a": 0.21, "b": 0.6, "y": -29.99},
      {"g": "NGC 578 + 1", "r": 3.9, "a": 0.26, "b": 0.75, "y": -30.08},
      {"g": "NGC 578 + 1", "r": 4.75, "a": 0.32, "b": 0.92, "y": -29.82},
      {"g": "NGC 578 + 1", "r": 5.6, "a": 0.37, "b": 1.08, "y": -30.16},
      {"g": "NGC 578 + 1", "r": 6.4, "a": 0.43, "b": 1.24, "y": -30.25},
      {"g": "NGC 578 + 1", "r": 7.25, "a": 0.48, "b": 1.4, "y": -30.42},
      {"g": "NGC 578 + 1", "r": 7.7, "a": 0.51, "b": 1.49, "y": -30.51},
      {"g": "NGC 578 + 1", "r": 8.5, "a": 0.57, "b": 1.64, "y": -30.34},
      {"g": "NGC 578 + 1", "r": 9.3, "a": 0.62, "b": 1.8, "y": -30.08},
      {"g": "NGC 578 + 1", "r": 10.2, "a": 0.68, "b": 1.97, "y": -30.16},
      {"g": "NGC 578 + 1", "r": 11, "a": 0.73, "b": 2.12, "y": -30.42},
      {"g": "NGC 578 + 1", "r": 11.8, "a": 0.79, "b": 2.28, "y": -30.51},
      {"g": "NGC 578 + 1", "r": 12.7, "a": 0.85, "b": 2.45, "y": -30.6},
      {"g": "NGC 578 + 1", "r": 13.9, "a": 0.93, "b": 2.68, "y": -31.2},
      {"g": "NGC 578 + 1", "r": 14.75, "a": 0.98, "b": 2.85, "y": -31.46},
      {"g": "NGC 578 + 1", "r": 15.6, "a": 1.04, "b": 3.01, "y": -31.46},
      {"g": "NGC 578 + 1", "r": 16, "a": 1.07, "b": 3.09, "y": -31.89},
      {"g": "NGC 578 + 1", "r": 16.8, "a": 1.12, "b": 3.24, "y": -32.49},
      {"g": "NGC 578 + 1", "r": 17.7, "a": 1.18, "b": 3.42, "y": -32.75},
      {"g": "NGC 578 + 1", "r": 19.3, "a": 1.29, "b": 3.73, "y": -32.49},
      {"g": "NGC 578 + 1", "r": 19.75, "a": 1.32, "b": 3.81, "y": -33.1},

      {"g": "NGC 7793", "r": 0.1, "a": 0.03, "b": 0.07, "y": -30.5},
      {"g": "NGC 7793", "r": 0.3, "a": 0.08, "b": 0.21, "y": -30.77},
      {"g": "NGC 7793", "r": 0.6, "a": 0.15, "b": 0.43, "y": -31.0},
      {"g": "NGC 7793", "r": 1, "a": 0.26, "b": 0.71, "y": -31.11},
      {"g": "NGC 7793", "r": 1.4, "a": 0.36, "b": 1.0, "y": -31.28},
      {"g": "NGC 7793", "r": 1.8, "a": 0.46, "b": 1.29, "y": -31.37},
      {"g": "NGC 7793", "r": 2.25, "a": 0.58, "b": 1.61, "y": -31.46},
      {"g": "NGC 7793", "r": 2.7, "a": 0.69, "b": 1.93, "y": -31.63},
      {"g": "NGC 7793", "r": 3.1, "a": 0.79, "b": 2.21, "y": -31.8},
      {"g": "NGC 7793", "r": 3.3, "a": 0.85, "b": 2.36, "y": -31.97},
      {"g": "NGC 7793", "r": 3.5, "a": 0.9, "b": 2.5, "y": -32.23},
      {"g": "NGC 7793", "r": 3.9, "a": 1.0, "b": 2.79, "y": -32.49},
      {"g": "NGC 7793", "r": 4.1, "a": 1.05, "b": 2.93, "y": -32.67},
      {"g": "NGC 7793", "r": 4.3, "a": 1.1, "b": 3.07, "y": -33.01},
      {"g": "NGC 7793", "r": 4.5, "a": 1.15, "b": 3.21, "y": -32.41},
      {"g": "NGC 7793", "r": 4.75, "a": 1.22, "b": 3.39, "y": -32.84},
      {"g": "NGC 7793", "r": 3.9, "a": 1.0, "b": 2.79, "y": -33.19},
      {"g": "NGC 7793", "r": 4.3, "a": 1.1, "b": 3.07, "y": -33.53}
    ]
  },
  "data": {"name": "pts"},
  "hconcat": [
    {
      "width": 253,
      "height": 424,
      "mark": {"type": "point", "filled": true, "opacity": 1, "size": 45, "clip": true},
      "encoding": {
        "x": {"field": "r", "type": "quantitative", "scale": {"domain": [0, 63.2], "nice": false, "zero": false}, "axis": {"values": [0, 20, 40, 60], "format": "d", "title": "R [kpc]", "titlePadding": 2}},
        "y": {"field": "y", "type": "quantitative", "scale": {"domain": [-35, -13], "nice": false, "zero": false}, "axis": {"values": [-35, -32.5, -30, -27.5, -25, -22.5, -20, -17.5, -15], "format": ".1f", "title": "log₁₀(Integrated H-alpha Surface Brightness) [W m⁻² arcsec⁻²])", "titlePadding": 7}},
        "color": {"field": "g", "type": "nominal", "title": null, "scale": {"domain": ["NGC 4939 + 18", "NGC 4517A + 18", "NGC 337A + 16.5", "NGC 908 + 14.5", "NGC 6384 + 14", "NGC 6118 + 12", "NGC 7606 + 10.5", "NGC 2280 + 8.5", "NGC 1325 + 7.5", "NGC 1964 + 6", "NGC 3705 + 5", "NGC 5364 + 3", "NGC 578 + 1", "NGC 7793"]}},
        "shape": {"field": "g", "type": "nominal", "title": null, "scale": {"domain": ["NGC 4939 + 18", "NGC 4517A + 18", "NGC 337A + 16.5", "NGC 908 + 14.5", "NGC 6384 + 14", "NGC 6118 + 12", "NGC 7606 + 10.5", "NGC 2280 + 8.5", "NGC 1325 + 7.5", "NGC 1964 + 6", "NGC 3705 + 5", "NGC 5364 + 3", "NGC 578 + 1", "NGC 7793"]}}
      }
    },
    {
      "width": 253,
      "height": 424,
      "mark": {"type": "point", "filled": true, "opacity": 1, "size": 45, "clip": true},
      "encoding": {
        "x": {"field": "a", "type": "quantitative", "scale": {"domain": [0, 3.77], "nice": false, "zero": false}, "axis": {"values": [0, 1, 2, 3], "format": "d", "title": "R/R₂₃.₅,ᵢ", "titlePadding": 4}},
        "y": {"field": "y", "type": "quantitative", "scale": {"domain": [-35, -13], "nice": false, "zero": false}, "axis": {"values": [-35, -32.5, -30, -27.5, -25, -22.5, -20, -17.5, -15], "labels": false, "title": null}},
        "color": {"field": "g", "type": "nominal", "title": null, "scale": {"domain": ["NGC 4939 + 18", "NGC 4517A + 18", "NGC 337A + 16.5", "NGC 908 + 14.5", "NGC 6384 + 14", "NGC 6118 + 12", "NGC 7606 + 10.5", "NGC 2280 + 8.5", "NGC 1325 + 7.5", "NGC 1964 + 6", "NGC 3705 + 5", "NGC 5364 + 3", "NGC 578 + 1", "NGC 7793"]}},
        "shape": {"field": "g", "type": "nominal", "title": null, "scale": {"domain": ["NGC 4939 + 18", "NGC 4517A + 18", "NGC 337A + 16.5", "NGC 908 + 14.5", "NGC 6384 + 14", "NGC 6118 + 12", "NGC 7606 + 10.5", "NGC 2280 + 8.5", "NGC 1325 + 7.5", "NGC 1964 + 6", "NGC 3705 + 5", "NGC 5364 + 3", "NGC 578 + 1", "NGC 7793"]}}
      }
    },
    {
      "width": 253,
      "height": 424,
      "mark": {"type": "point", "filled": true, "opacity": 1, "size": 45, "clip": true},
      "encoding": {
        "x": {"field": "b", "type": "quantitative", "scale": {"domain": [0, 11.77], "nice": false, "zero": false}, "axis": {"values": [0, 2, 4, 6, 8, 10], "format": "d", "title": "R/Rₒₚₜ,ᵢ", "titlePadding": 2}},
        "y": {"field": "y", "type": "quantitative", "scale": {"domain": [-35, -13], "nice": false, "zero": false}, "axis": {"values": [-35, -32.5, -30, -27.5, -25, -22.5, -20, -17.5, -15], "labels": false, "title": null}},
        "color": {"field": "g", "type": "nominal", "title": null, "scale": {"domain": ["NGC 4939 + 18", "NGC 4517A + 18", "NGC 337A + 16.5", "NGC 908 + 14.5", "NGC 6384 + 14", "NGC 6118 + 12", "NGC 7606 + 10.5", "NGC 2280 + 8.5", "NGC 1325 + 7.5", "NGC 1964 + 6", "NGC 3705 + 5", "NGC 5364 + 3", "NGC 578 + 1", "NGC 7793"]}},
        "shape": {"field": "g", "type": "nominal", "title": null, "scale": {"domain": ["NGC 4939 + 18", "NGC 4517A + 18", "NGC 337A + 16.5", "NGC 908 + 14.5", "NGC 6384 + 14", "NGC 6118 + 12", "NGC 7606 + 10.5", "NGC 2280 + 8.5", "NGC 1325 + 7.5", "NGC 1964 + 6", "NGC 3705 + 5", "NGC 5364 + 3", "NGC 578 + 1", "NGC 7793"]}}
      }
    }
  ],
  "resolve": {"scale": {"color": "shared", "shape": "shared"}, "legend": {"color": "shared", "shape": "shared"}},
  "config": {
    "font": "Liberation Sans",
    "background": "white",
    "view": {"stroke": "#222222", "strokeWidth": 1},
    "range": {
      "category": ["#000000", "#ff0000", "#0000ff", "#008000", "#ff00ff", "#000000", "#ff0000", "#0000ff", "#008000", "#ff00ff", "#000000", "#ff0000", "#0000ff", "#008000"],
      "symbol": ["square", "circle", "M-1,-0.7L-0.7,-1L0,-0.3L0.7,-1L1,-0.7L0.3,0L1,0.7L0.7,1L0,0.3L-0.7,1L-1,0.7L-0.3,0Z", "triangle-down", "square", "circle", "M-1,-0.7L-0.7,-1L0,-0.3L0.7,-1L1,-0.7L0.3,0L1,0.7L0.7,1L0,0.3L-0.7,1L-1,0.7L-0.3,0Z", "triangle-down", "square", "circle", "M-1,-0.7L-0.7,-1L0,-0.3L0.7,-1L1,-0.7L0.3,0L1,0.7L0.7,1L0,0.3L-0.7,1L-1,0.7L-0.3,0Z", "triangle-down", "square", "circle"]
    },
    "axis": {
      "grid": false,
      "labelFont": "Liberation Serif",
      "labelFontSize": 12,
      "labelColor": "#000000",
      "labelPadding": 2,
      "labelFlush": false,
      "labelOverlap": false,
      "titleFont": "Liberation Sans",
      "titleFontSize": 12.5,
      "titleFontWeight": "normal",
      "titleColor": "#000000",
      "tickSize": 3.5,
      "tickColor": "#222222",
      "domainColor": "#222222"
    },
    "legend": {
      "orient": "none",
      "legendX": 141,
      "legendY": 228,
      "padding": 5,
      "symbolOffset": 5,
      "labelOffset": 5,
      "rowPadding": 3.2,
      "symbolSize": 24,
      "symbolStrokeWidth": 0,
      "labelFont": "Liberation Sans",
      "labelFontSize": 9.2,
      "labelColor": "#000000",
      "fillColor": "rgba(255,255,255,0.8)",
      "strokeColor": "#cccccc",
      "cornerRadius": 3
    }
  }
}
